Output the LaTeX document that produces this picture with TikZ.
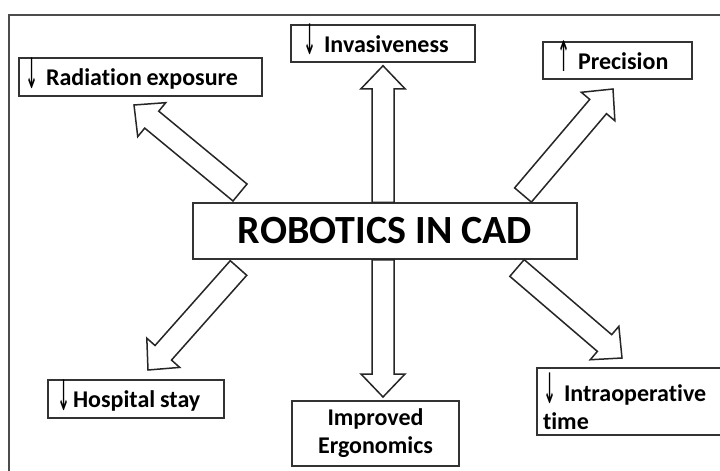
\documentclass[tikz,border=0pt]{standalone}
\usepackage{fontspec}
\setmainfont{Carlito}[Ligatures=NoCommon]
\newfontfamily\arrfont{DejaVu Sans}
\usetikzlibrary{calc}
\newcommand\dnarr{{\mdseries\arrfont\raisebox{-2.5pt}{\scalebox{0.65}[1.75]{↓}}}}
\newcommand\uparr{{\mdseries\arrfont\raisebox{-2.5pt}{\scalebox{0.65}[1.75]{↑}}}}
\newcommand\fatarrow[2]{%
  \path ($(#2)!23pt!(#1)$) coordinate (fa-h);
  \draw[fatarr] ($(#1)!11pt!90:(#2)$) -- ($(fa-h)!11pt!90:(#2)$) -- ($(fa-h)!22pt!90:(#2)$) -- (#2)
    -- ($(fa-h)!22pt!-90:(#2)$) -- ($(fa-h)!11pt!-90:(#2)$) -- ($(#1)!11pt!-90:(#2)$) -- cycle;}
\begin{document}
\begin{tikzpicture}[x=1pt,y=-1pt,
  box/.style={draw=black!80, line width=1.5pt, font=\bfseries\fontsize{24}{28}\selectfont, inner ysep=0pt},
  oneline/.style={box, align=left, text height=17pt, text depth=0pt},
  fatarr/.style={draw=black!85, line width=1.5pt, fill=white, line join=miter}]
\useasboundingbox (0,0) rectangle (720,471);
\fill[white] (0,0) rectangle (720,471);
\clip (0,0) rectangle (720,471);
\draw[line width=1.2pt, black!70] (9,15) rectangle (740,490);

\node[box, minimum width=384pt, minimum height=56pt, inner sep=0pt,
      font=\bfseries\fontsize{40}{44}\selectfont] (c) at (385,231) {ROBOTICS IN CAD};

\node[oneline, minimum width=243pt, minimum height=38pt, inner xsep=6pt, text width=231pt]
  (rad) at (140.5,77) {\dnarr\ Radiation\hspace{0.2em}exposure};
\node[oneline, minimum width=184pt, minimum height=37pt, inner xsep=12pt, text width=160pt]
  (inv) at (383,43.5) {\dnarr\ Invasiveness};
\node[oneline, minimum width=149pt, minimum height=37pt, inner xsep=14pt, text width=121pt]
  (pre) at (617.5,60.5) {\uparr\ Precision};
\node[oneline, minimum width=176pt, minimum height=38pt, inner xsep=9pt, text width=158pt]
  (hos) at (136,399) {\dnarr\hspace{3pt}Hospital\hspace{0.2em}stay};
\node[box, minimum width=167pt, minimum height=65pt, align=center, inner xsep=4pt, text width=159pt]
  (erg) at (375.5,433.5) {Improved\\Ergonomics};
\node[box, minimum width=203pt, minimum height=67pt, align=left, inner xsep=6pt, text width=191pt]
  (intra) at (638.5,401.5) {\dnarr\ Intraoperative\\time};

\coordinate (a1t) at (240,192.5);  \coordinate (a1h) at (134,105);
\coordinate (a2t) at (c.north -| inv.south);  \coordinate (a2h) at ($(inv.south)+(0,3)$);
\coordinate (a3t) at (523,195);    \coordinate (a3h) at (613,89);
\coordinate (a4t) at (238.5,268);  \coordinate (a4h) at (148,370);
\coordinate (a5t) at (c.south -| inv.south);  \coordinate (a5h) at (383,397);
\coordinate (a6t) at (517,268);    \coordinate (a6h) at (622,358);

\fatarrow{a1t}{a1h}
\fatarrow{a2t}{a2h}
\fatarrow{a3t}{a3h}
\fatarrow{a4t}{a4h}
\fatarrow{a5t}{a5h}
\fatarrow{a6t}{a6h}
\end{tikzpicture}
\end{document}
